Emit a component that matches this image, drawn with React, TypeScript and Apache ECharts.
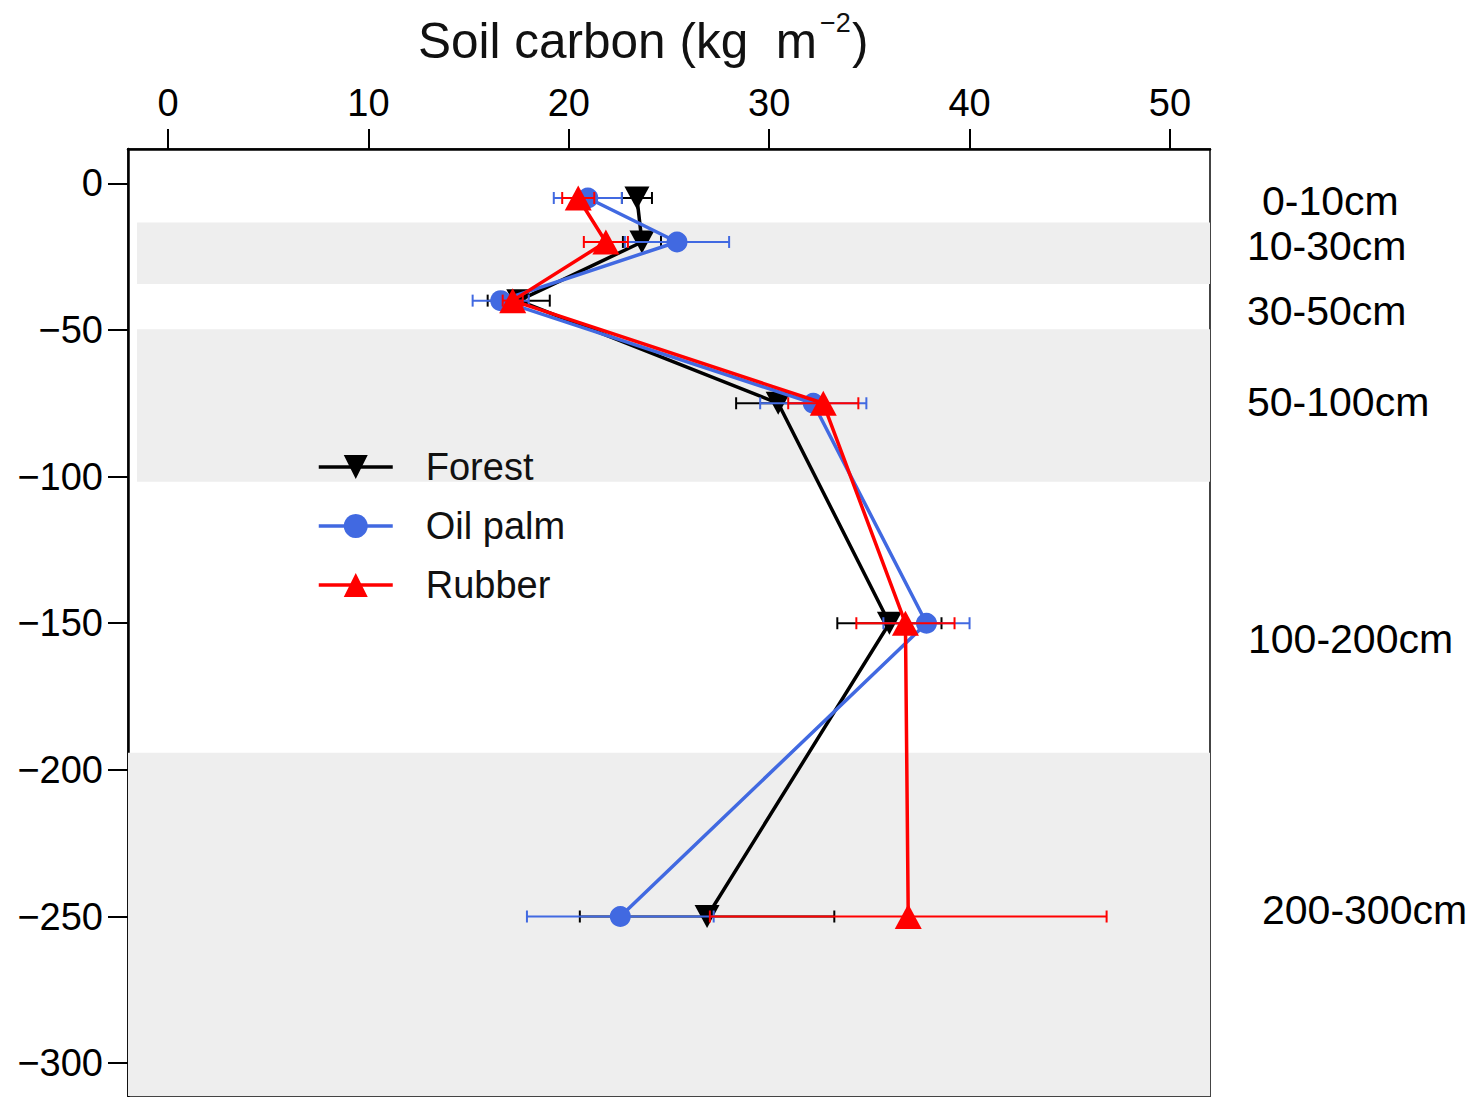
import React, { useEffect, useRef } from "react";
import * as echarts from "echarts";

// Sampling depths (cm, negative downward): midpoints of each soil layer
const depths = [-5, -20, -40, -75, -150, -250];

// Soil carbon (kg m^-2) per layer and its error half-width
const forestCarbon = [23.4, 23.65, 17.5, 30.45, 36.0, 26.9];
const forestErr = [0.75, 0.95, 1.55, 2.1, 2.6, 6.35];
const oilPalmCarbon = [20.95, 25.4, 16.6, 32.2, 37.85, 22.57];
const oilPalmErr = [1.7, 2.6, 1.4, 2.65, 2.15, 4.66];
const rubberCarbon = [20.47, 21.85, 17.2, 32.7, 36.8, 36.94];
const rubberErr = [0.8, 1.1, 0.5, 1.75, 2.45, 9.9];

// Layer names shown beside the plot
const layerLabels = ["0-10cm", "10-30cm", "30-50cm", "50-100cm", "100-200cm", "200-300cm"];

// Shaded depth bands (top, bottom)
const bandDepths: [number, number][] = [
  [-13.4, -34.3],
  [-49.8, -101.8],
  [-194.2, -312],
];

const xTicks = [0, 10, 20, 30, 40, 50];
const yTicks = [0, -50, -100, -150, -200, -250, -300];

const FONT = "'Liberation Sans', Arial, Helvetica, sans-serif";

const COLORS = {
  forest: "#000000",
  oil: "#4169E1",
  rubber: "#FF0000",
};

function errorSeries(name: string, carbon: number[], err: number[], color: string, z: number) {
  return {
    type: "custom",
    name,
    z,
    silent: true,
    encode: { x: 0, y: 1 },
    data: carbon.map((c, i) => [c, depths[i], err[i]]),
    renderItem: (_params: any, api: any) => {
      const x = api.value(0);
      const y = api.value(1);
      const e = api.value(2);
      const l = api.coord([x - e, y]);
      const r = api.coord([x + e, y]);
      const cap = 6;
      const style = { stroke: color, lineWidth: 2 };
      return {
        type: "group",
        children: [
          { type: "line", shape: { x1: l[0], y1: l[1], x2: r[0], y2: r[1] }, style },
          { type: "line", shape: { x1: l[0], y1: l[1] - cap, x2: l[0], y2: l[1] + cap }, style },
          { type: "line", shape: { x1: r[0], y1: r[1] - cap, x2: r[0], y2: r[1] + cap }, style },
        ],
      };
    },
  };
}

function lineSeries(
  name: string,
  carbon: number[],
  color: string,
  symbol: string,
  symbolSize: number | number[],
  rotate: number,
  z: number
) {
  return {
    type: "line",
    name,
    z,
    data: carbon.map((c, i) => [c, depths[i]]),
    symbol,
    symbolSize,
    symbolRotate: rotate,
    showAllSymbol: true,
    lineStyle: { color, width: 3.5 },
    itemStyle: { color },
    emphasis: { disabled: true },
  };
}

export default function App() {
  const ref = useRef<HTMLDivElement>(null);

  useEffect(() => {
    if (!ref.current) return;
    const chart = echarts.init(ref.current, undefined, { renderer: "svg" });

    const labelX = [1262, 1247, 1247, 1247, 1248, 1262];
    const labelY = [201, 246, 311, 402, 639, 910];

    chart.setOption({
      animation: false,
      backgroundColor: "#ffffff",
      grid: {
        left: 128,
        top: 149,
        width: 1082,
        height: 947,
        show: true,
        borderColor: "#444",
        borderWidth: 2,
        backgroundColor: "transparent",
      },
      xAxis: {
        type: "value",
        position: "top",
        min: -2,
        max: 52,
        splitLine: { show: false },
        axisLine: { show: true, onZero: false, lineStyle: { color: "#000", width: 2.5 } },
        axisTick: {
          show: true,
          inside: false,
          length: 20,
          customValues: xTicks,
          lineStyle: { color: "#000", width: 2 },
        },
        axisLabel: {
          customValues: xTicks,
          margin: 27,
          fontSize: 38,
          fontFamily: FONT,
          color: "#000",
        },
      },
      yAxis: {
        type: "value",
        min: -311.2,
        max: 11.7,
        splitLine: { show: false },
        axisLine: { show: true, onZero: false, lineStyle: { color: "#000", width: 2.5 } },
        axisTick: {
          show: true,
          length: 20,
          customValues: yTicks,
          lineStyle: { color: "#000", width: 2 },
        },
        axisLabel: {
          customValues: yTicks,
          margin: 25,
          fontSize: 38,
          fontFamily: FONT,
          color: "#000",
          formatter: (v: number) => String(v).replace("-", "\u2212"),
        },
      },
      legend: {
        data: ["Forest", "Oil palm", "Rubber"],
        orient: "vertical",
        left: 312,
        top: 443,
        itemWidth: 74,
        itemHeight: 30,
        itemGap: 21,
        lineStyle: { width: 3.5 },
        textStyle: { fontSize: 38, fontFamily: FONT, color: "#111", padding: [0, 0, 0, 28] },
        selectedMode: false,
      },
      graphic: [
        {
          type: "text",
          x: 418,
          y: 40,
          style: {
            text: "Soil carbon (kg  m",
            font: `49.5px ${FONT}`,
            fill: "#111",
            verticalAlign: "middle",
          },
        },
        {
          type: "text",
          x: 820,
          y: 23,
          style: {
            text: "\u22122",
            font: `27px ${FONT}`,
            fill: "#111",
            verticalAlign: "middle",
          },
        },
        {
          type: "text",
          x: 852,
          y: 40,
          style: {
            text: ")",
            font: `49.5px ${FONT}`,
            fill: "#111",
            verticalAlign: "middle",
          },
        },
        ...layerLabels.map((t, i) => ({
          type: "text",
          x: labelX[i],
          y: labelY[i],
          style: {
            text: t,
            font: `41px ${FONT}`,
            fill: "#000",
            verticalAlign: "middle",
          },
        })),
      ],
      series: [
        {
          type: "line",
          name: "bands",
          data: [],
          silent: true,
          markArea: {
            silent: true,
            itemStyle: { color: "#eeeeee" },
            data: bandDepths.map((b, i) => [
              { coord: [i === 2 ? -2.3 : -1.55, b[0]] },
              { coord: [52, b[1]] },
            ]),
          },
          z: 1,
        },
        errorSeries("Forest error", forestCarbon, forestErr, COLORS.forest, 2),
        lineSeries("Forest", forestCarbon, COLORS.forest, "triangle", [25, 23], 180, 3),
        errorSeries("Oil palm error", oilPalmCarbon, oilPalmErr, COLORS.oil, 4),
        lineSeries("Oil palm", oilPalmCarbon, COLORS.oil, "circle", 21, 0, 5),
        errorSeries("Rubber error", rubberCarbon, rubberErr, COLORS.rubber, 6),
        lineSeries("Rubber", rubberCarbon, COLORS.rubber, "triangle", [27, 25], 0, 7),
      ],
    });

    return () => chart.dispose();
  }, []);

  return (
    <div
      ref={ref}
      style={{ position: "fixed", left: 0, top: 0, width: 1484, height: 1097 }}
    />
  );
}
